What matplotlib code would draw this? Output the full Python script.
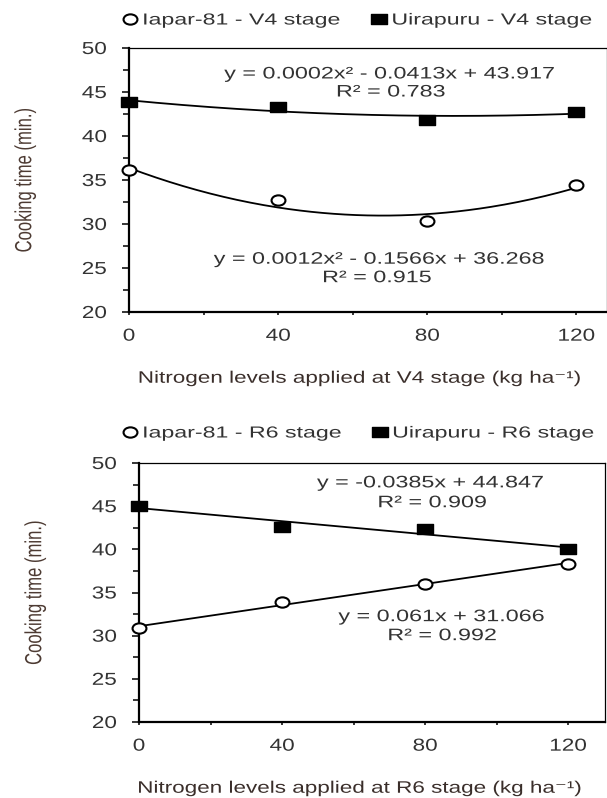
import matplotlib as mpl
mpl.use('Agg')
import matplotlib.pyplot as plt
from matplotlib.ticker import MultipleLocator
from matplotlib.patheffects import AbstractPathEffect
from matplotlib.transforms import Affine2D
from matplotlib.path import Path
import numpy as np

plt.rcParams['font.family'] = ['Liberation Sans', 'DejaVu Sans']

n_levels = [0, 40, 80, 120]

iapar_v4 = [36.1, 32.7, 30.3, 34.4]
uira_v4 = [43.9, 43.3, 41.8, 42.7]
iapar_r6 = [30.85, 33.9, 36.0, 38.3]
uira_r6 = [45.0, 42.6, 42.4, 40.0]

eq_uira_v4 = ["y = 0.0002x\u00b2 - 0.0413x + 43.917", "R\u00b2 = 0.783"]
eq_iapar_v4 = ["y = 0.0012x\u00b2 - 0.1566x + 36.268", "R\u00b2 = 0.915"]
eq_uira_r6 = ["y = -0.0385x + 44.847", "R\u00b2 = 0.909"]
eq_iapar_r6 = ["y = 0.061x + 31.066", "R\u00b2 = 0.992"]

TXT = '#333333'


# the source picture is stretched sideways, so widen the glyphs a bit
class Stretch(AbstractPathEffect):
    def __init__(self, sx=1.0, sy=1.0, pivot='center'):
        super().__init__()
        self.sx, self.sy, self.pivot = sx, sy, pivot

    def draw_path(self, renderer, gc, tpath, affine, rgbFace=None):
        ext = tpath.get_extents()
        px = ext.x0 if self.pivot == 'left' else (ext.x0 + ext.x1) / 2
        py = (ext.y0 + ext.y1) / 2
        t = Affine2D().translate(-px, -py).scale(self.sx, self.sy).translate(px, py)
        renderer.draw_path(gc, tpath, t + affine, rgbFace)


oval = Affine2D().scale(1.35, 1.0).transform_path(Path.unit_circle())
box = Path([(-1.4, -1), (1.4, -1), (1.4, 1), (-1.4, 1), (-1.4, -1)], closed=True)


def panel(fig, rect, xmax, iapar, uira, deg, stage, eqs, eq_pos, ylab_x, xlab_y, leg_y):
    ax = fig.add_axes(rect)
    xs = np.linspace(0, 120, 200)
    for vals in (iapar, uira):
        c = np.polyfit(n_levels, vals, deg)
        ax.plot(xs, np.polyval(c, xs), color='black', lw=1.3, zorder=2)
    ax.plot(n_levels, iapar, ls='none', marker=oval, ms=10, mfc='white', mec='black',
            mew=1.5, clip_on=False, zorder=3, label='Iapar-81 - %s stage' % stage)
    ax.plot(n_levels, uira, ls='none', marker=box, ms=11, color='black',
            clip_on=False, zorder=3, label='Uirapuru - %s stage' % stage)

    ax.set_xlim(0, xmax)
    ax.set_ylim(20, 50)
    ax.set_xticks(n_levels)
    ax.xaxis.set_minor_locator(MultipleLocator(20))
    ax.yaxis.set_major_locator(MultipleLocator(5))
    ax.yaxis.set_minor_locator(MultipleLocator(2.5))
    ax.tick_params(axis='y', which='major', direction='out', labelsize=12.5,
                   labelcolor=TXT, width=1.1, length=5, pad=13)
    ax.tick_params(axis='y', which='minor', direction='out', width=1.1, length=4)
    ax.tick_params(axis='x', which='both', direction='out', width=1.1, length=2.5)
    ax.tick_params(axis='x', which='major', labelsize=12.5, labelcolor=TXT, pad=9.5)
    for lab in ax.get_xticklabels() + ax.get_yticklabels():
        lab.set_path_effects([Stretch(sx=1.3)])
    for s in ('left', 'bottom'):
        ax.spines[s].set_linewidth(1.6)
    for s in ('top', 'right'):
        ax.spines[s].set_linewidth(0.9)

    for lines, pos in zip(eqs, eq_pos):
        for txt, (x, y) in zip(lines, pos):
            ax.text(x, y, txt, ha='center', va='center', fontsize=12, color=TXT,
                    path_effects=[Stretch(sx=1.4)])

    leg = ax.legend(loc='center left', bbox_to_anchor=(122 / 607, 1 - leg_y / 798),
                    bbox_transform=fig.transFigure, ncol=2, frameon=False,
                    fontsize=11.5, handlelength=1.0, handletextpad=0.3,
                    columnspacing=5.7, borderaxespad=0, borderpad=0, labelcolor=TXT)
    for t in leg.get_texts():
        t.set_path_effects([Stretch(sx=1.45, pivot='left')])

    mid = rect[1] + rect[3] / 2
    fig.text(ylab_x, mid, 'Cooking time (min.)', rotation=90, ha='center', va='center',
             fontsize=12, color='#4d3b33', path_effects=[Stretch(sy=1.4)])
    fig.text(360 / 607, 1 - xlab_y / 798,
             'Nitrogen levels applied at %s stage (kg ha\u207b\u00b9)' % stage,
             ha='center', va='center', fontsize=12, color='#3a2e2a',
             path_effects=[Stretch(sx=1.35)])
    return ax


fig = plt.figure(figsize=(6.07, 7.98), dpi=100)

panel(fig, [129 / 607, 1 - 312 / 798, 478 / 607, 264 / 798], 128.2, iapar_v4, uira_v4, 2, 'V4',
      [eq_uira_v4, eq_iapar_v4],
      [[(69.8, 47.05), (70.2, 45.0)], [(67.0, 26.0), (66.5, 23.9)]],
      25 / 607, 378, 20)
panel(fig, [139 / 607, 1 - 722 / 798, 466 / 607, 259 / 798], 130.3, iapar_r6, uira_r6, 1, 'R6',
      [eq_uira_r6, eq_iapar_r6],
      [[(81.4, 47.7), (82.0, 45.4)], [(84.5, 32.2), (84.8, 30.0)]],
      35 / 607, 788, 433)

fig.savefig('out.png', dpi=100)
